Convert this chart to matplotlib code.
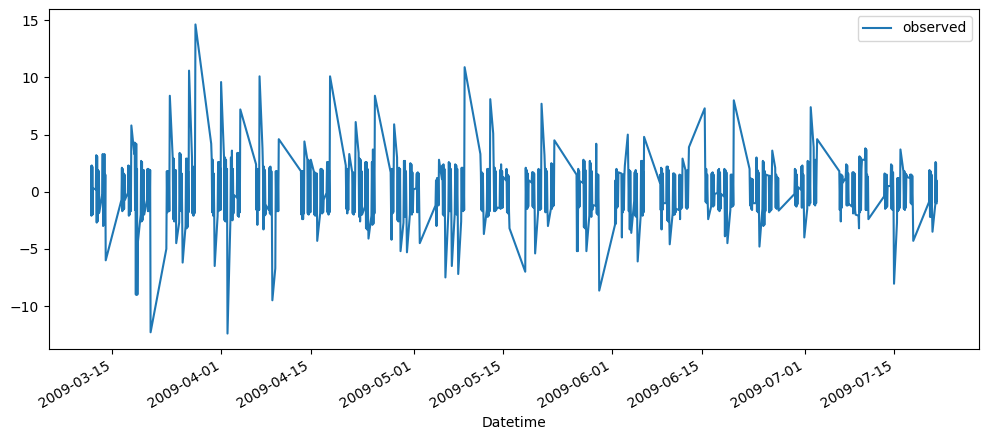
import pandas as pd
import numpy as np
import matplotlib
matplotlib.use("Agg")
import matplotlib.pyplot as plt
import matplotlib.dates as mdates

# one inner list per trading session, readings run from 10:00 to 23:00
march_values = [
    [2.2, -2.1, 2.3, -1.9, 2.2, -2.0, 0.3],
    [0.2, 3.2, -2.7, 3.1, -2.6, 1.9, -1.9, 1.8, -1.8],
    [-0.2, 3.3, -3.0, 3.2, -2.9, 3.3, -2.9, 1.5, -6.0],
    [-0.7, 2.1, -1.7, 2.0, -1.6, 1.6, -1.5, 1.5, -0.7],
    [-0.1, 2.3, -2.1, 2.2, -2.0, 2.0, -1.7, 5.8],
    [3.3, 4.3, -1.6, 4.2, -9.0, 4.2, -9.0, 2.0, -9.0, -4.5],
    [-2.0, 2.7, -2.6, 2.6, -2.5, 1.9, -1.8, 1.9, -2.0],
    [-0.7, 2.0, -1.7, 2.0, -1.7, 1.9, -1.6, 1.9, -12.3],
    [-5.0, 1.8, -1.8, 1.8, -1.7, 1.7, -1.7, 8.4],
    [2.9, -2.4, 2.9, -2.6, 1.9, -2.0, 1.9, -4.5],
    [-2.7, 3.4, -1.6, 3.3, -1.7, 1.6, -1.7, -6.2],
    [-3.0, 2.9, -3.2, 2.9, -3.1, 1.8, -1.8, 10.6],
    [3.0, -1.9, 2.1, -2.1, 2.2, -1.9, 2.0, 14.64],
    [4.2, 2.9, -1.8, 2.8, -2.1, 1.6, -1.7, -6.5],
    [-2.1, 2.6, -1.7, 2.6, -1.6, 2.1, -1.6, 9.6],
]
april_values = [
    [3.0, -2.5, 3.0, -2.6, 2.8, -2.0, 2.0, -12.41],
    [-2.4, 3.0, -2.4, 3.6, -2.5, 2.0, -1.9, -0.3],
    [-0.5, 3.4, -2.1, 3.4, -2.2, 1.9, -1.8, 7.2],
    [2.4, -1.6, 2.0, -2.9, 2.0, -1.6, 1.8, -1.6, 10.1],
    [3.8, 2.0, -3.3, 2.2, -2.1, 1.9, -2.0, -1.2],
    [-1.6, 2.1, -1.9, 2.2, -2.0, 1.8, -1.8, -9.5],
    [-6.7, 1.8, -1.7, 1.8, -1.7, 1.7, -1.7, 4.6],
    [1.8, -2.0, 1.8, -2.4, 1.8, -2.4, 1.7, -1.9, 4.4],
    [2.8, -1.9, 2.8, -2.0, 2.7, -1.8, 1.9, -1.8, 2.8],
    [1.8, -2.0, 1.7, -2.1, 1.6, -1.9, 1.6, -4.3],
    [-1.9, 2.0, -1.8, 2.0, -1.9, 1.9, -1.8, -0.7],
    [-0.1, 2.6, -1.8, 2.6, -2.0, 1.9, -1.8, 10.1],
    [2.3, -1.5, 2.0, -1.9, 2.0, -1.6, 1.9, 3.3],
    [1.7, -1.9, 1.7, -2.0, 1.6, -1.8, 1.6, 6.1],
    [3.4, -2.2, 2.9, -2.6, 2.8, -2.0, 1.8, -2.0],
    [-1.3, 2.6, -3.2, 2.6, -3.3, 2.0, -1.9, -4.1],
    [-2.1, 2.6, -2.9, 3.7, -2.8, 2.0, -1.9, 8.4],
    [1.7, -1.9, -4.2, 2.0, -1.9, 2.0, -1.8, 1.9, 5.9],
    [3.0, -2.5, 2.0, -2.6, 2.1, -1.9, 2.0, -5.2],
    [-2.7, 2.7, -2.2, 2.7, -2.2, 1.8, -1.9, -5.3],
    [-2.0, 2.5, -1.9, 2.4, -2.0, 1.7, -1.8, 0.2],
]
may_values = [
    [0.3, 1.6, -1.8, 1.7, -1.6, 1.6, -1.7, -4.5],
    [-1.2, 1.0, -3.0, 1.2, -1.0, 1.1, -1.2, 2.8],
    [1.1, 2.3, -2.0, 2.4, -2.1, 2.0, -1.8, -7.5],
    [-1.9, 2.6, -1.7, 2.5, -1.7, 2.0, -1.6, -6.5],
    [-1.9, 2.4, -1.9, 2.3, -2.0, 2.0, -1.8, -7.2],
    [-2.6, 2.1, -1.6, 2.1, -1.7, 2.0, -1.6, 10.9],
    [3.3, 1.7, -1.6, 1.7, -1.7, 1.6, -1.5, -3.7],
    [-1.6, 2.0, -2.2, 2.0, -2.1, 1.8, -1.7, 8.1],
    [5.1, 2.1, -1.7, 2.1, -1.7, 1.8, -1.6, -1.4],
    [-1.4, 1.9, -1.5, 2.4, -1.4, 1.8, -1.4, 1.3],
    [1.0, 2.0, -1.8, 1.5, -1.9, 1.4, -1.7, -3.2],
    [-7.0, 2.1, -1.4, 1.9, -1.5, 1.6, -1.3, 1.0],
    [0.8, 1.7, -1.3, 1.7, -1.4, 1.6, -1.3, -5.4],
    [-1.8, 2.0, -1.5, 1.9, -1.6, 1.8, -1.5, 7.7],
    [3.2, 1.9, -1.8, 2.0, -1.7, 1.8, -1.6, -3.0],
    [-1.5, 2.5, -1.5, 2.4, -1.3, 1.8, -1.2, 4.5],
    [1.5, -5.2, 1.3, -5.2, 2.0, -1.4, 1.8, -1.3, 0.9],
    [0.8, 2.8, -3.1, 2.7, -3.2, 1.9, -1.8, -5.2],
    [-2.1, 2.7, -2.1, 2.5, -2.2, 1.8, -1.6, -1.2],
    [-1.2, 4.2, -1.9, 1.5, -2.0, 1.5, -1.8, -8.65],
]
june_values = [
    [-2.9, 1.0, -2.8, 2.0, -1.4, 1.6, -1.3, 1.7],
    [1.6, -4.0, 1.5, -1.8, 1.5, -1.6, 1.4, 2.3],
    [5.0, 2.0, -1.7, 1.9, -3.3, 1.8, -1.6, -3.6],
    [-0.8, 1.7, -2.1, 1.9, -2.2, 1.6, -1.9, -6.1],
    [-2.2, 2.7, -2.0, 2.7, -2.1, 1.8, -1.8, 4.8],
    [0.8, 1.5, -1.6, 2.1, -3.3, 2.0, -1.6, 1.6, -1.0],
    [-1.0, 2.2, -2.5, 2.2, -2.6, 1.9, -2.0, -4.6],
    [-1.9, 1.6, -2.0, 1.6, -2.0, 1.5, -1.8, -1.5],
    [-1.6, 1.5, -2.4, 1.4, -1.5, 1.4, -1.4, 2.9],
    [1.9, -1.4, 1.8, -1.5, 1.9, -1.4, 1.6, 3.9],
    [7.3, 2.2, -0.9, 2.0, -1.0, 1.5, -0.8, -2.4],
    [-1.3, 1.6, -1.2, 1.7, -1.3, 1.5, -1.2, -0.2],
    [-0.1, 1.9, -1.6, 2.0, -1.7, 1.7, -1.5, -0.2],
    [-0.4, 2.0, -3.9, 1.9, -3.8, 1.7, -1.5, -4.5],
    [-1.6, 1.5, -1.3, 1.5, -1.3, 1.4, -1.2, 8.0],
    [2.0, -1.2, 1.2, -1.5, 1.1, -1.6, 1.1, -1.0],
    [-1.0, 3.0, -1.7, 1.9, -1.8, 1.7, -1.6, -4.8],
    [-1.5, 2.7, -3.0, 2.6, -2.9, 1.8, -1.7, 1.5],
    [1.4, -1.8, 1.4, -1.7, 1.2, -1.6, 1.3, 3.6],
    [2.1, -1.4, 1.5, -1.5, 1.3, -1.4, 1.2, -1.65],
    [-0.2, 2.0, -1.2, 1.9, -1.3, 1.5, -1.1, 0.4],
    [0.2, 2.2, -1.4, 2.3, -1.3, 1.5, -1.2, -4.0],
]
july_values = [
    [-1.5, 2.7, -1.1, 2.6, -1.2, 1.8, -1.0, 7.4],
    [3.9, -1.1, 2.7, -1.2, 2.8, -1.0, 2.2, 4.6],
    [1.8, -1.6, 1.5, -2.6, 1.5, -1.4, 1.4, 0.8],
    [1.2, 2.4, -1.2, 2.3, -1.2, 1.6, -1.1, -1.1],
    [-1.3, 1.7, -1.9, 1.7, -1.8, 1.6, -1.6, -2.0],
    [-2.1, -3.2, 3.1, -1.8, 3.0, -1.6, 2.0, 2.8],
    [2.8, 3.8, -1.6, 3.7, -1.6, 1.5, -1.5, 1.3, -2.4],
    [-0.4, 1.6, -1.5, 1.5, -1.4, 1.5, -1.3, 0.5],
    [0.5, 2.4, -1.5, 2.3, -1.6, 1.7, -1.4, -8.05],
    [-2.7, 1.2, -1.7, 1.2, -1.6, 1.1, -1.4, 3.7],
    [1.8, -1.5, 1.8, -1.6, 1.6, -1.4, 1.5, 1.3],
    [1.2, 1.5, -1.0, 1.5, -1.1, 1.4, -1.0, -4.3],
    [-0.9, 1.9, -2.2, 1.8, -2.2, 1.5, -1.6, -3.5],
    [-1.0, 2.6, -1.0, 2.5, -0.9, 1.0, -1.0],
]

market_holidays = ["2009-04-10", "2009-05-25", "2009-07-03"]
first_reading = pd.Timestamp("2009-03-11 16:30")
last_reading = pd.Timestamp("2009-07-21 14:30")

session_days = pd.bdate_range("2009-03-11", "2009-07-21").drop(pd.to_datetime(market_holidays))
all_sessions = march_values + april_values + may_values + june_values + july_values

times = []
values = []
for day, readings in zip(session_days, all_sessions):
    # the first and last sessions are cut short by the ends of the record
    start = max(day + pd.Timedelta(hours=10), first_reading)
    end = min(day + pd.Timedelta(hours=23), last_reading)
    if end <= start:
        start = end - pd.Timedelta(hours=4)
    times.extend(pd.date_range(start, end, periods=len(readings)))
    values.extend(readings)

observed = pd.Series(values, index=pd.DatetimeIndex(times), name="observed")

fig = plt.figure(figsize=(9.89, 4.41), dpi=100)
ax = fig.add_axes([48.9 / 989, (441 - 349.0) / 441, 930 / 989, 340 / 441])
ax.plot(observed.index, observed.values, label="observed")

ax.xaxis.set_major_locator(mdates.DayLocator(bymonthday=[1, 15]))
ax.xaxis.set_major_formatter(mdates.DateFormatter("%Y-%m-%d"))
plt.setp(ax.get_xticklabels(), rotation=30, ha="right")
ax.set_xlabel("Datetime")
ax.legend(loc="upper right")

fig.savefig("out.png", dpi=100)
